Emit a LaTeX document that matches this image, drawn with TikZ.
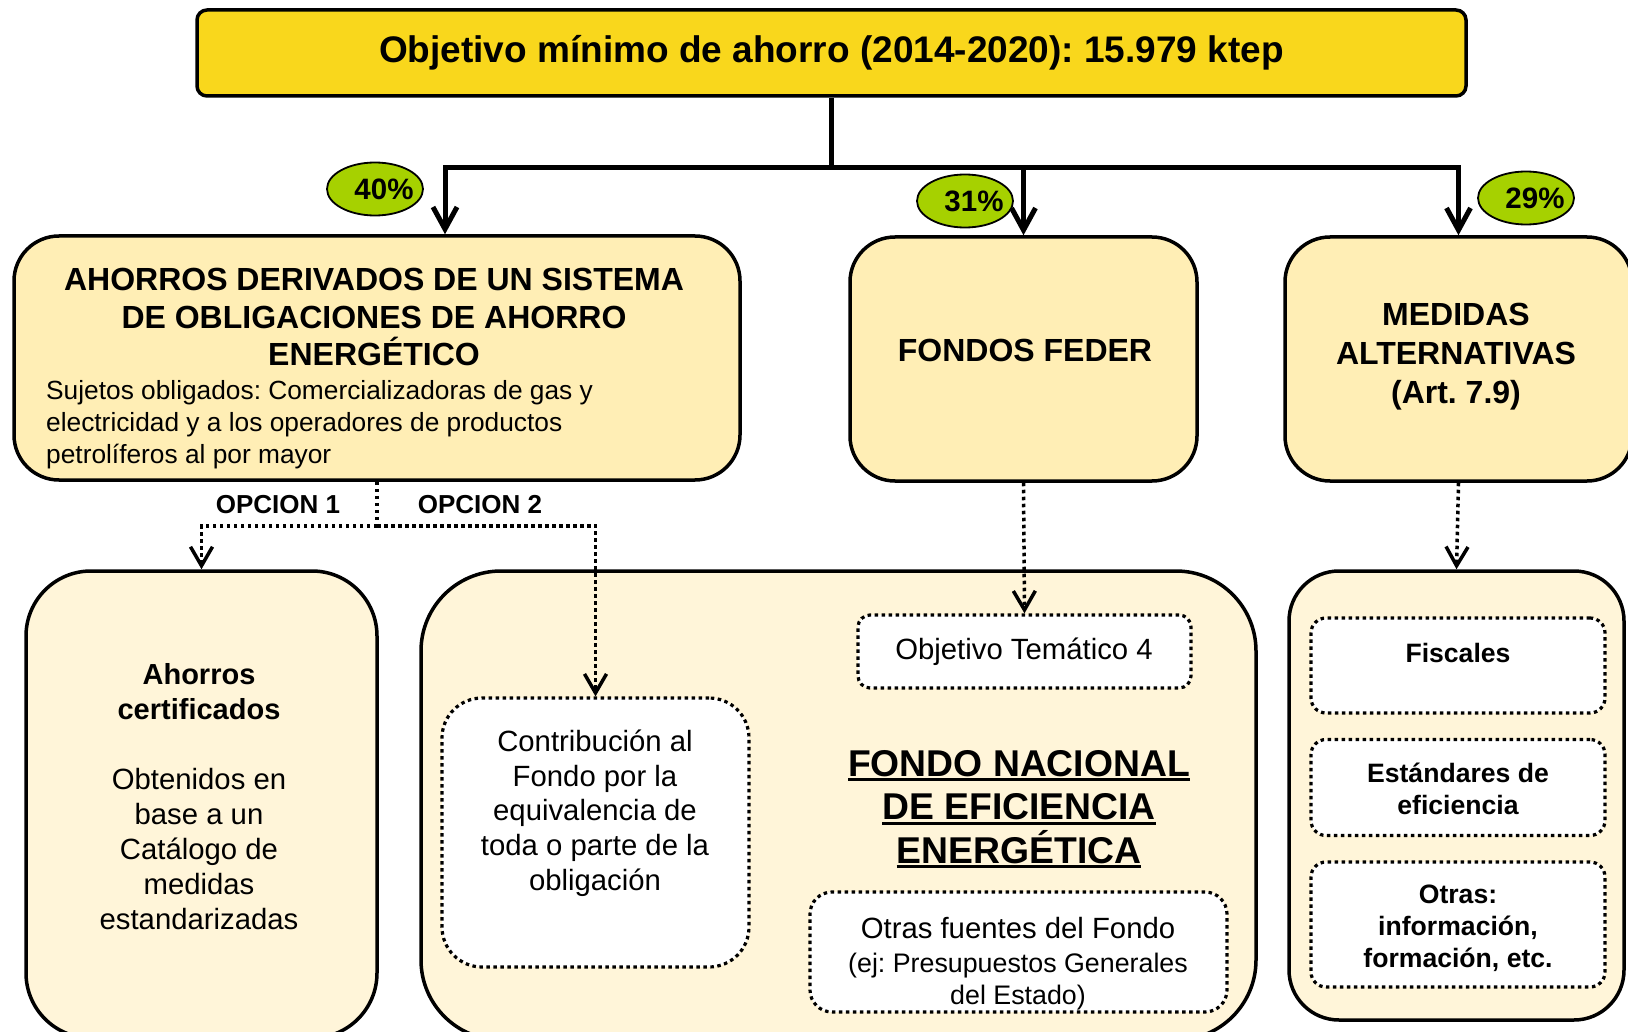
\documentclass[tikz,border=0pt]{standalone}
\usepackage{fontspec}
\setmainfont{Liberation Sans}
\usetikzlibrary{arrows.meta,shapes.geometric}
\frenchspacing
\definecolor{gold}{HTML}{F9D71C}
\definecolor{upbox}{HTML}{FFEEB5}
\definecolor{lowbox}{HTML}{FFF5D9}
\definecolor{pctgreen}{HTML}{A6D100}
\newcommand\myfs[2]{\fontsize{#1}{#2}\selectfont}
\newcommand\myul[1]{\setbox0\hbox{#1}\rlap{\rule[-5pt]{\wd0}{2.8pt}}\box0}
\tikzset{
  mainbox/.style={draw=black, line width=3.5pt, rounded corners=#1, inner sep=0pt},
  mainbox/.default=40pt,
  dotbox/.style={draw=black, line width=3.2pt, dash pattern=on 3.5pt off 3.5pt, fill=white, rounded corners=#1, inner sep=0pt},
  dotbox/.default=15pt,
  txt/.style={inner sep=0pt, align=center},
  trunk/.style={line width=5pt, line join=miter},
  trunkarrow/.style={trunk, -{Straight Barb[length=22pt,width=24pt]}},
  dotline/.style={line width=3.5pt, dash pattern=on 3.5pt off 3.5pt},
  dotarrow/.style={dotline, -{Straight Barb[length=19pt,width=22pt]}},
  pct/.style={ellipse, draw=black, line width=1.8pt, fill=pctgreen, minimum width=96pt, minimum height=53pt, inner sep=0pt},
  pcttext/.style={inner sep=0pt, font=\bfseries\myfs{29.5}{33}},
}
\begin{document}
\begin{tikzpicture}[x=1pt,y=-1pt]
\useasboundingbox (0,0) rectangle (1628,1032);

% boxes
\node[mainbox=10pt, fill=gold, minimum width=1269pt, minimum height=86pt, font=\bfseries\myfs{37}{41}] (top) at (831.5,53) {Objetivo mínimo de ahorro (2014-2020): 15.979 ktep};
\node[mainbox=45pt, fill=upbox, minimum width=726pt, minimum height=244pt] (b1) at (377,358) {};
\node[mainbox=45pt, fill=upbox, minimum width=347pt, minimum height=244pt] (b2) at (1023.5,359) {};
\node[mainbox=45pt, fill=upbox, minimum width=347pt, minimum height=244pt] (b3) at (1458.5,359) {};
\node[mainbox=65pt, fill=lowbox, minimum width=351pt, minimum height=467pt] (b4) at (201.5,804.5) {};
\node[mainbox=80pt, fill=lowbox, minimum width=835pt, minimum height=469pt] (b5) at (838.5,805.5) {};
\node[mainbox=50pt, fill=lowbox, minimum width=335pt, minimum height=449pt] (b6) at (1456.5,795.5) {};

% inner dotted boxes
\node[dotbox=40pt, minimum width=307pt, minimum height=269pt] (contrib) at (595.5,832.5) {};
\node[dotbox=12pt, minimum width=333pt, minimum height=73pt] (obj) at (1024.5,651.5) {};
\node[dotbox=22pt, minimum width=417pt, minimum height=120pt] (otras) at (1018.5,952) {};
\node[dotbox=15pt, minimum width=294pt, minimum height=95pt] (fisc) at (1458,665.5) {};
\node[dotbox=15pt, minimum width=294pt, minimum height=96pt] (est) at (1458,787.5) {};
\node[dotbox=15pt, minimum width=294pt, minimum height=125pt] (otr) at (1458,924.5) {};

% texts
\node[txt, font=\bfseries\myfs{32}{37.5}] (t1title) at (374,317) {AHORROS DERIVADOS DE UN SISTEMA\\DE OBLIGACIONES DE AHORRO\\ENERGÉTICO};
\node[txt, align=left, anchor=west, font=\myfs{26.3}{32}] (t1sub) at (46,425) {Sujetos obligados: Comercializadoras de gas y\\electricidad y a los operadores de productos\\petrolíferos al por mayor};
\node[txt, font=\bfseries\myfs{32}{37}] (t2) at (1025,350) {FONDOS FEDER};
\node[txt, font=\bfseries\myfs{32}{39}] (t3) at (1456,357) {MEDIDAS\\ALTERNATIVAS\\(Art. 7.9)};
\node[txt, font=\bfseries\myfs{29}{35}] (t4a) at (199,692) {Ahorros\\certificados};
\node[txt, font=\myfs{29.3}{35}] (t4b) at (199,849) {Obtenidos en\\base a un\\Catálogo de\\medidas\\estandarizadas};
\node[txt, font=\myfs{29.3}{34.7}] (tcontrib) at (595,813) {Contribución al\\Fondo por la\\equivalencia de\\toda o parte de la\\obligación};
\node[txt, font=\myfs{29.3}{34}] (tobj) at (1024,652) {Objetivo Temático 4};
\node[txt, font=\bfseries\myfs{37.3}{43.5}] (tfondo) at (1019,809) {\myul{FONDO NACIONAL}\\\myul{DE EFICIENCIA}\\\myul{ENERGÉTICA}};
\node[txt, font=\myfs{29.3}{34}] (totras1) at (1018,928) {Otras fuentes del Fondo};
\node[txt, font=\myfs{26.8}{32}] (totras2) at (1018,982) {(ej: Presupuestos Generales\\del Estado)};
\node[txt, font=\bfseries\myfs{26.6}{32}] (tfisc) at (1458,653) {Fiscales};
\node[txt, font=\bfseries\myfs{26.6}{32}] (test) at (1458,789) {Estándares de\\eficiencia};
\node[txt, font=\bfseries\myfs{26.6}{32}] (totr) at (1458,928) {Otras:\\información,\\formación, etc.};
\node[txt, font=\bfseries\myfs{26}{30}] (opc1) at (278,505) {OPCION 1};
\node[txt, font=\bfseries\myfs{26}{30}] (opc2) at (480,505) {OPCION 2};

% percentage ellipses
\node[pct] (p40) at (375,189) {};
\node[pct] (p31) at (965,201) {};
\node[pct] (p29) at (1526,198) {};
\node[pcttext] (l40) at ([xshift=9pt]p40.center) {40\%};
\node[pcttext] (l31) at ([xshift=9pt]p31.center) {31\%};
\node[pcttext] (l29) at ([xshift=9pt]p29.center) {29\%};

% main connectors
\draw[trunk] (top.south) -- ++(0,70) coordinate (junc);
\draw[trunkarrow] (junc) -| ([xshift=68pt]b1.north);
\draw[trunkarrow] (junc) -| (b2.north);
\draw[trunkarrow] (junc) -| (b3.north);

% dotted connectors
\draw[dotline] (b1.south) -- ++(0,44) coordinate (split);
\draw[dotarrow] (split) -| (b4.north);
\draw[dotarrow] (split) -| (contrib.north);
\draw[dotarrow] (b2.south) -- (obj.north);
\draw[dotarrow] (b3.south) -- (b6.north);
\end{tikzpicture}
\end{document}
